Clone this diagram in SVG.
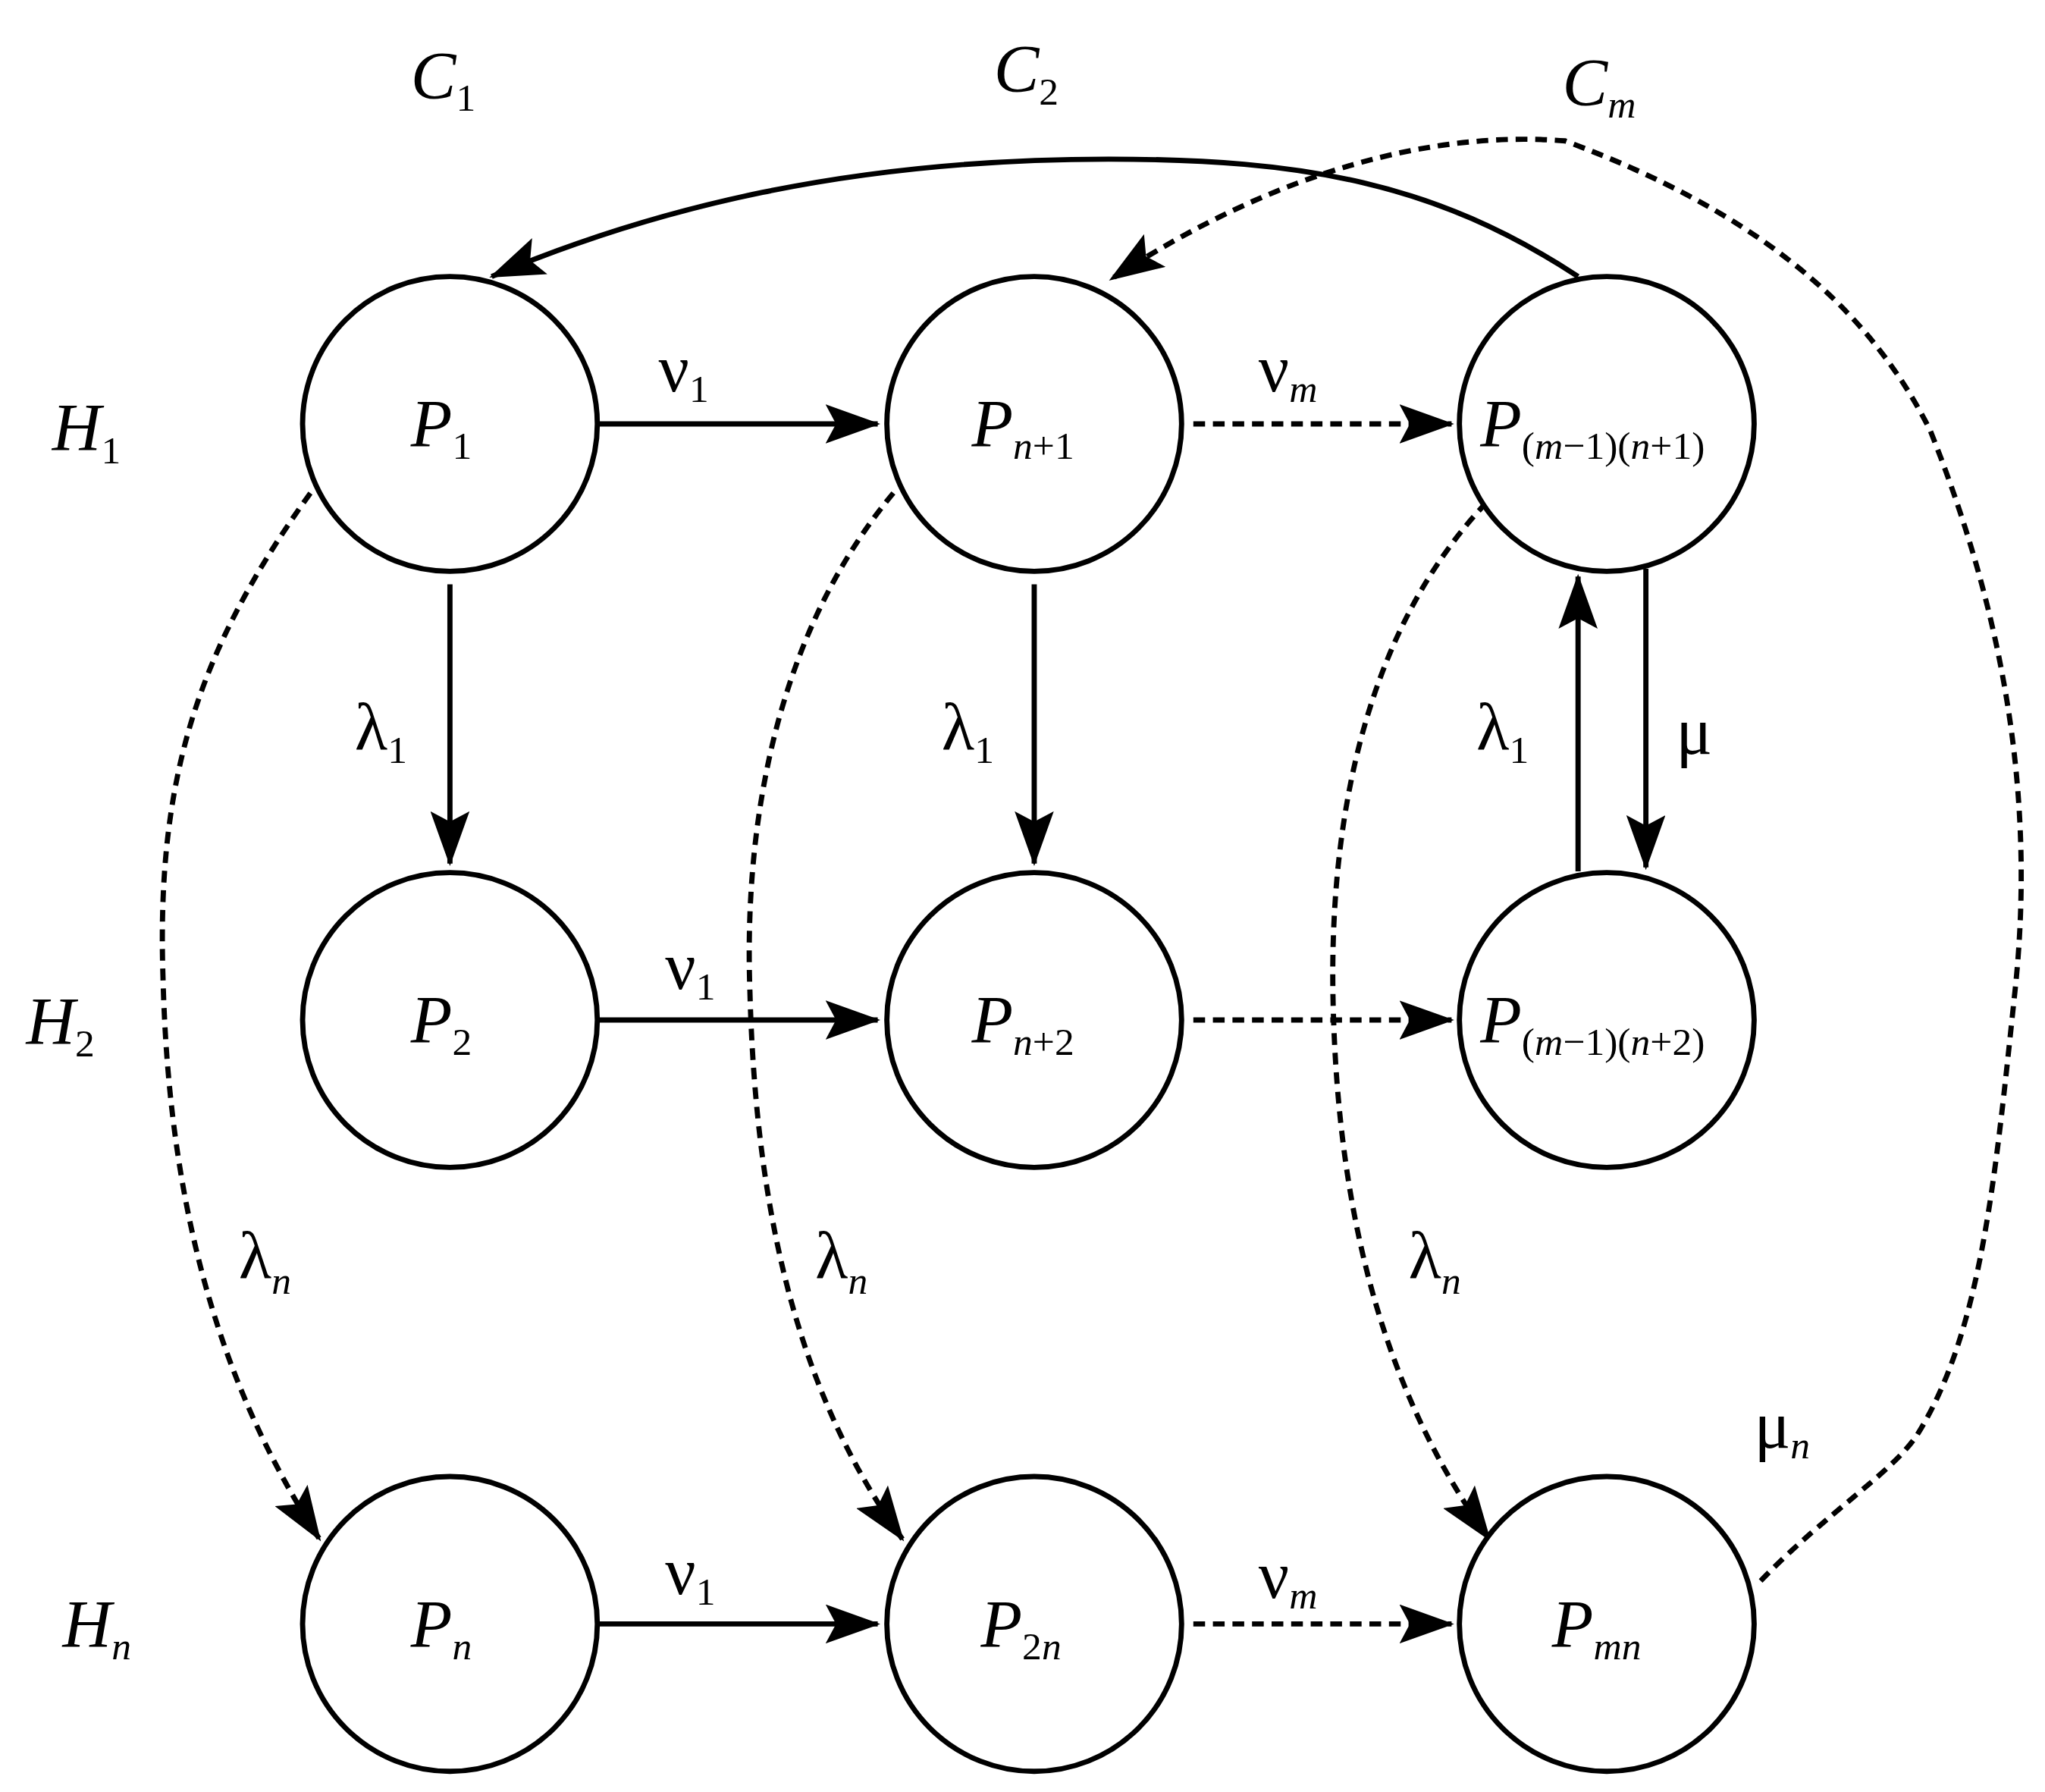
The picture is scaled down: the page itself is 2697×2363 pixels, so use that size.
<svg xmlns="http://www.w3.org/2000/svg" width="2697" height="2363" viewBox="0 0 2697 2363">
<defs>
<style>
text{font-family:"Liberation Serif","Times New Roman",serif;fill:#000}
.big{font-size:52px;font-style:italic}
.sub{font-size:30px}
.i{font-style:italic}
.u{font-style:normal}
.gr{font-size:52px}
circle{fill:#fff;stroke:#000;stroke-width:4}
.c path{fill:none;stroke:#000;stroke-width:4}
.d{stroke-dasharray:9 6}
</style>
<marker id="a" markerUnits="userSpaceOnUse" markerWidth="44" markerHeight="30" refX="40" refY="15" orient="auto"><path d="M0,0 L42,15 L0,30 L8,15 Z" fill="#000"/></marker>
</defs>
<rect width="2697" height="2363" fill="#fff"/>
<g transform="scale(1.72)">
<g class="c" id="connectors">
<path d="M458,325 H673" marker-end="url(#a)"/>
<path class="d" d="M915,325 H1113" marker-end="url(#a)"/>
<path d="M458,782 H673" marker-end="url(#a)"/>
<path class="d" d="M915,782 H1113" marker-end="url(#a)"/>
<path d="M458,1245 H673" marker-end="url(#a)"/>
<path class="d" d="M915,1245 H1113" marker-end="url(#a)"/>
<path d="M345,448 V662" marker-end="url(#a)"/>
<path d="M793,448 V662" marker-end="url(#a)"/>
<path d="M1210,668 V442" marker-end="url(#a)"/>
<path d="M1262,436 V665" marker-end="url(#a)"/>
<path d="M1210,212 C1100,140 1000,122 850,122 C650,122 500,160 377,212" marker-end="url(#a)"/>
<path class="d" d="M1350,1212 C1400,1160 1450,1130 1470,1100 C1520,1020 1530,900 1545,760 C1560,620 1540,480 1480,330 C1430,230 1340,160 1200,108 C1100,100 980,130 852,214" marker-end="url(#a)"/>
<path class="d" d="M238,378 C150,500 120,600 125,750 C130,950 180,1080 245,1180" marker-end="url(#a)"/>
<path class="d" d="M685,378 C600,480 570,620 575,760 C580,950 620,1080 692,1180" marker-end="url(#a)"/>
<path class="d" d="M1140,385 C1050,480 1020,620 1022,760 C1025,950 1070,1080 1142,1180" marker-end="url(#a)"/>
</g>
<g id="n1"><circle cx="345" cy="325" r="113"/><text x="315" y="342" class="big">P<tspan class="sub u" dy="10">1</tspan></text></g>
<g id="n2"><circle cx="345" cy="782" r="113"/><text x="315" y="799" class="big">P<tspan class="sub u" dy="10">2</tspan></text></g>
<g id="n3"><circle cx="345" cy="1245" r="113"/><text x="315" y="1262" class="big">P<tspan class="sub i" dy="10">n</tspan></text></g>
<g id="n4"><circle cx="793" cy="325" r="113"/><text x="745" y="342" class="big">P<tspan class="sub" dy="10"><tspan class="i">n</tspan><tspan class="u">+1</tspan></tspan></text></g>
<g id="n5"><circle cx="793" cy="782" r="113"/><text x="745" y="799" class="big">P<tspan class="sub" dy="10"><tspan class="i">n</tspan><tspan class="u">+2</tspan></tspan></text></g>
<g id="n6"><circle cx="793" cy="1245" r="113"/><text x="752" y="1262" class="big">P<tspan class="sub" dy="10"><tspan class="u">2</tspan><tspan class="i">n</tspan></tspan></text></g>
<g id="n7"><circle cx="1232" cy="325" r="113"/><text x="1135" y="342" class="big">P<tspan class="sub" dy="10"><tspan class="u">(</tspan><tspan class="i">m</tspan><tspan class="u">−1)(</tspan><tspan class="i">n</tspan><tspan class="u">+1)</tspan></tspan></text></g>
<g id="n8"><circle cx="1232" cy="782" r="113"/><text x="1135" y="799" class="big">P<tspan class="sub" dy="10"><tspan class="u">(</tspan><tspan class="i">m</tspan><tspan class="u">−1)(</tspan><tspan class="i">n</tspan><tspan class="u">+2)</tspan></tspan></text></g>
<g id="n9"><circle cx="1232" cy="1245" r="113"/><text x="1190" y="1262" class="big">P<tspan class="sub i" dy="10">mn</tspan></text></g>
<g id="labels">
<text x="315" y="75" class="big">C<tspan class="sub u" dy="10">1</tspan></text>
<text x="762" y="70" class="big">C<tspan class="sub u" dy="10">2</tspan></text>
<text x="1198" y="80" class="big">C<tspan class="sub i" dy="10">m</tspan></text>
<text x="40" y="345" class="big">H<tspan class="sub u" dy="10">1</tspan></text>
<text x="20" y="800" class="big">H<tspan class="sub u" dy="10">2</tspan></text>
<text x="48" y="1262" class="big">H<tspan class="sub i" dy="10">n</tspan></text>
<text x="505" y="300" class="gr">ν<tspan class="sub" dy="8">1</tspan></text>
<text x="965" y="300" class="gr">ν<tspan class="sub i" dy="8">m</tspan></text>
<text x="510" y="758" class="gr">ν<tspan class="sub" dy="8">1</tspan></text>
<text x="510" y="1222" class="gr">ν<tspan class="sub" dy="8">1</tspan></text>
<text x="965" y="1225" class="gr">ν<tspan class="sub i" dy="8">m</tspan></text>
<text x="272" y="575" class="gr">λ<tspan class="sub" dy="10">1</tspan></text>
<text x="722" y="575" class="gr">λ<tspan class="sub" dy="10">1</tspan></text>
<text x="1132" y="575" class="gr">λ<tspan class="sub" dy="10">1</tspan></text>
<text x="1285" y="578" class="gr">μ</text>
<text x="183" y="980" class="gr">λ<tspan class="sub i" dy="12">n</tspan></text>
<text x="625" y="980" class="gr">λ<tspan class="sub i" dy="12">n</tspan></text>
<text x="1080" y="980" class="gr">λ<tspan class="sub i" dy="12">n</tspan></text>
<text x="1345" y="1110" class="gr">μ<tspan class="sub i" dy="8">n</tspan></text>
</g>
</g>
</svg>
